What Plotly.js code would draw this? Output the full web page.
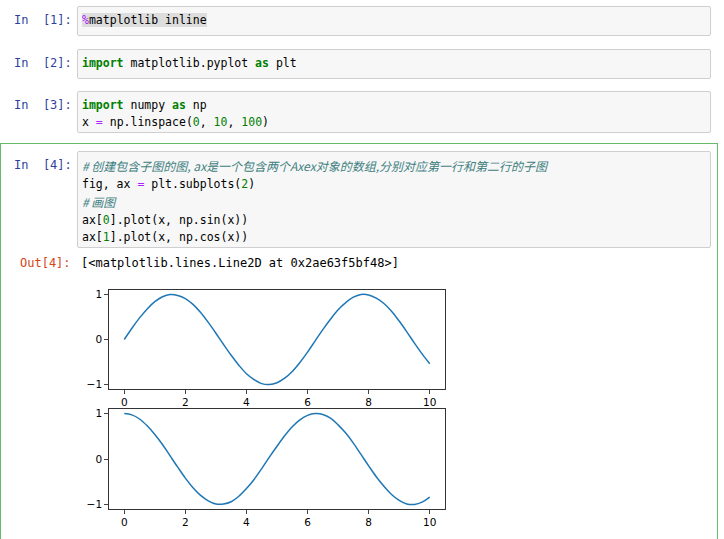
<!DOCTYPE html>
<html><head><meta charset="utf-8">
<script src="https://cdn.plot.ly/plotly-3.0.1.min.js"></script>
<style>
body{margin:0;width:724px;height:539px;background:#fff;position:relative;overflow:hidden;font-family:"DejaVu Sans Mono",monospace;font-size:11.5px;}
.p{position:absolute;color:#303f9f;font-size:12px;}
.o{position:absolute;color:#d84315;font-size:12px;}
.c{position:absolute;left:77px;width:634px;background:#f7f7f7;border:1px solid #cfcfcf;border-radius:2px;padding:5px 4px;line-height:17px;white-space:pre;box-sizing:border-box;}
.k{color:#008000;font-weight:bold}.n{color:#008000}.cm{color:#408080;font-style:italic;font-family:"Noto Sans CJK SC","DejaVu Sans Mono";font-size:12px}
.m{color:#aa22ff}
#plot{position:absolute;left:0;top:0;width:724px;height:539px;}
</style></head><body>
<div class="p" style="left:14px;top:13px">In&nbsp;&nbsp;[1]:</div>
<div class="c" style="top:6px;height:30px"><span style="background:#ddd"><span class="m">%</span>matplotlib inline</span></div>
<div class="p" style="left:14px;top:56px">In&nbsp;&nbsp;[2]:</div>
<div class="c" style="top:49px;height:30px"><span class="k">import</span> matplotlib.pyplot <span class="k">as</span> plt</div>
<div class="p" style="left:14px;top:98px">In&nbsp;&nbsp;[3]:</div>
<div class="c" style="top:91px;height:42px"><span class="k">import</span> numpy <span class="k">as</span> np
x <span class="m">=</span> np.linspace(<span class="n">0</span>, <span class="n">10</span>, <span class="n">100</span>)</div>
<div style="position:absolute;left:0;top:143px;width:718px;height:400px;border-top:1px solid #66bb6a;border-right:1px solid #66bb6a;border-left:1px solid #66bb6a;box-sizing:border-box"></div>
<div class="p" style="left:14px;top:158px">In&nbsp;&nbsp;[4]:</div>
<div class="c" style="top:151px;height:97px"><span class="cm"># 创建包含子图的图, ax是一个包含两个Axex对象的数组,分别对应第一行和第二行的子图</span>
fig, ax <span class="m">=</span> plt.subplots(<span class="n">2</span>)
<span class="cm"># 画图</span>
ax[<span class="n">0</span>].plot(x, np.sin(x))
ax[<span class="n">1</span>].plot(x, np.cos(x))</div>
<div class="o" style="left:20px;top:256px">Out[4]:</div>
<div style="position:absolute;left:81px;top:256px;font-size:12px">[&lt;matplotlib.lines.Line2D at 0x2ae63f5bf48&gt;]</div>
<div id="plot"></div>
<script>
const xs=[0,0.25,0.5,0.75,1,1.25,1.5,1.75,2,2.25,2.5,2.75,3,3.25,3.5,3.75,4,4.25,4.5,4.75,5,5.25,5.5,5.75,6,6.25,6.5,6.75,7,7.25,7.5,7.75,8,8.25,8.5,8.75,9,9.25,9.5,9.75,10];
const sinVals=[0,0.25,0.48,0.68,0.84,0.95,1.0,0.98,0.91,0.78,0.6,0.38,0.14,-0.11,-0.35,-0.57,-0.76,-0.89,-0.98,-1.0,-0.96,-0.86,-0.71,-0.51,-0.28,-0.03,0.22,0.45,0.66,0.82,0.94,1.0,0.99,0.92,0.8,0.63,0.41,0.17,-0.08,-0.32,-0.54];
const cosVals=[1,0.97,0.88,0.73,0.54,0.32,0.07,-0.18,-0.42,-0.63,-0.8,-0.92,-0.99,-0.99,-0.94,-0.82,-0.65,-0.45,-0.21,0.04,0.28,0.51,0.71,0.86,0.96,1.0,0.98,0.9,0.75,0.57,0.35,0.1,-0.15,-0.39,-0.6,-0.78,-0.91,-0.99,-1.0,-0.95,-0.84];
const xTicks=[0,2,4,6,8,10];
const yTicks=[-1,0,1];
const ax=(d,anchor)=>({domain:d,anchor:anchor,range:[-0.5,10.5],tickvals:xTicks,ticks:'outside',ticklen:4,showgrid:false,zeroline:false,showline:true,mirror:true,linecolor:'#000',linewidth:0.8,tickfont:{size:10.5,family:'DejaVu Sans',color:'#000'}});
const ay=(d,anchor)=>({domain:d,anchor:anchor,range:[-1.1,1.1],tickvals:yTicks,ticktext:['\u22121','0','1'],ticks:'outside',ticklen:4,showgrid:false,zeroline:false,showline:true,mirror:true,linecolor:'#000',linewidth:0.8,tickfont:{size:10.5,family:'DejaVu Sans',color:'#000'}});
Plotly.newPlot('plot',[
 {x:xs,y:sinVals,mode:'lines',line:{color:'#1f77b4',width:1.5,shape:'spline'},xaxis:'x',yaxis:'y'},
 {x:xs,y:cosVals,mode:'lines',line:{color:'#1f77b4',width:1.5,shape:'spline'},xaxis:'x2',yaxis:'y2'}
],{width:724,height:539,margin:{l:0,r:0,t:0,b:0},paper_bgcolor:'rgba(0,0,0,0)',plot_bgcolor:'#fff',showlegend:false,
 xaxis:ax([109/724,445/724],'y'),yaxis:ay([1-389/539,1-290/539],'x'),
 xaxis2:ax([109/724,445/724],'y2'),yaxis2:ay([1-509/539,1-409/539],'x2')},{staticPlot:true});
</script>
</body></html>
